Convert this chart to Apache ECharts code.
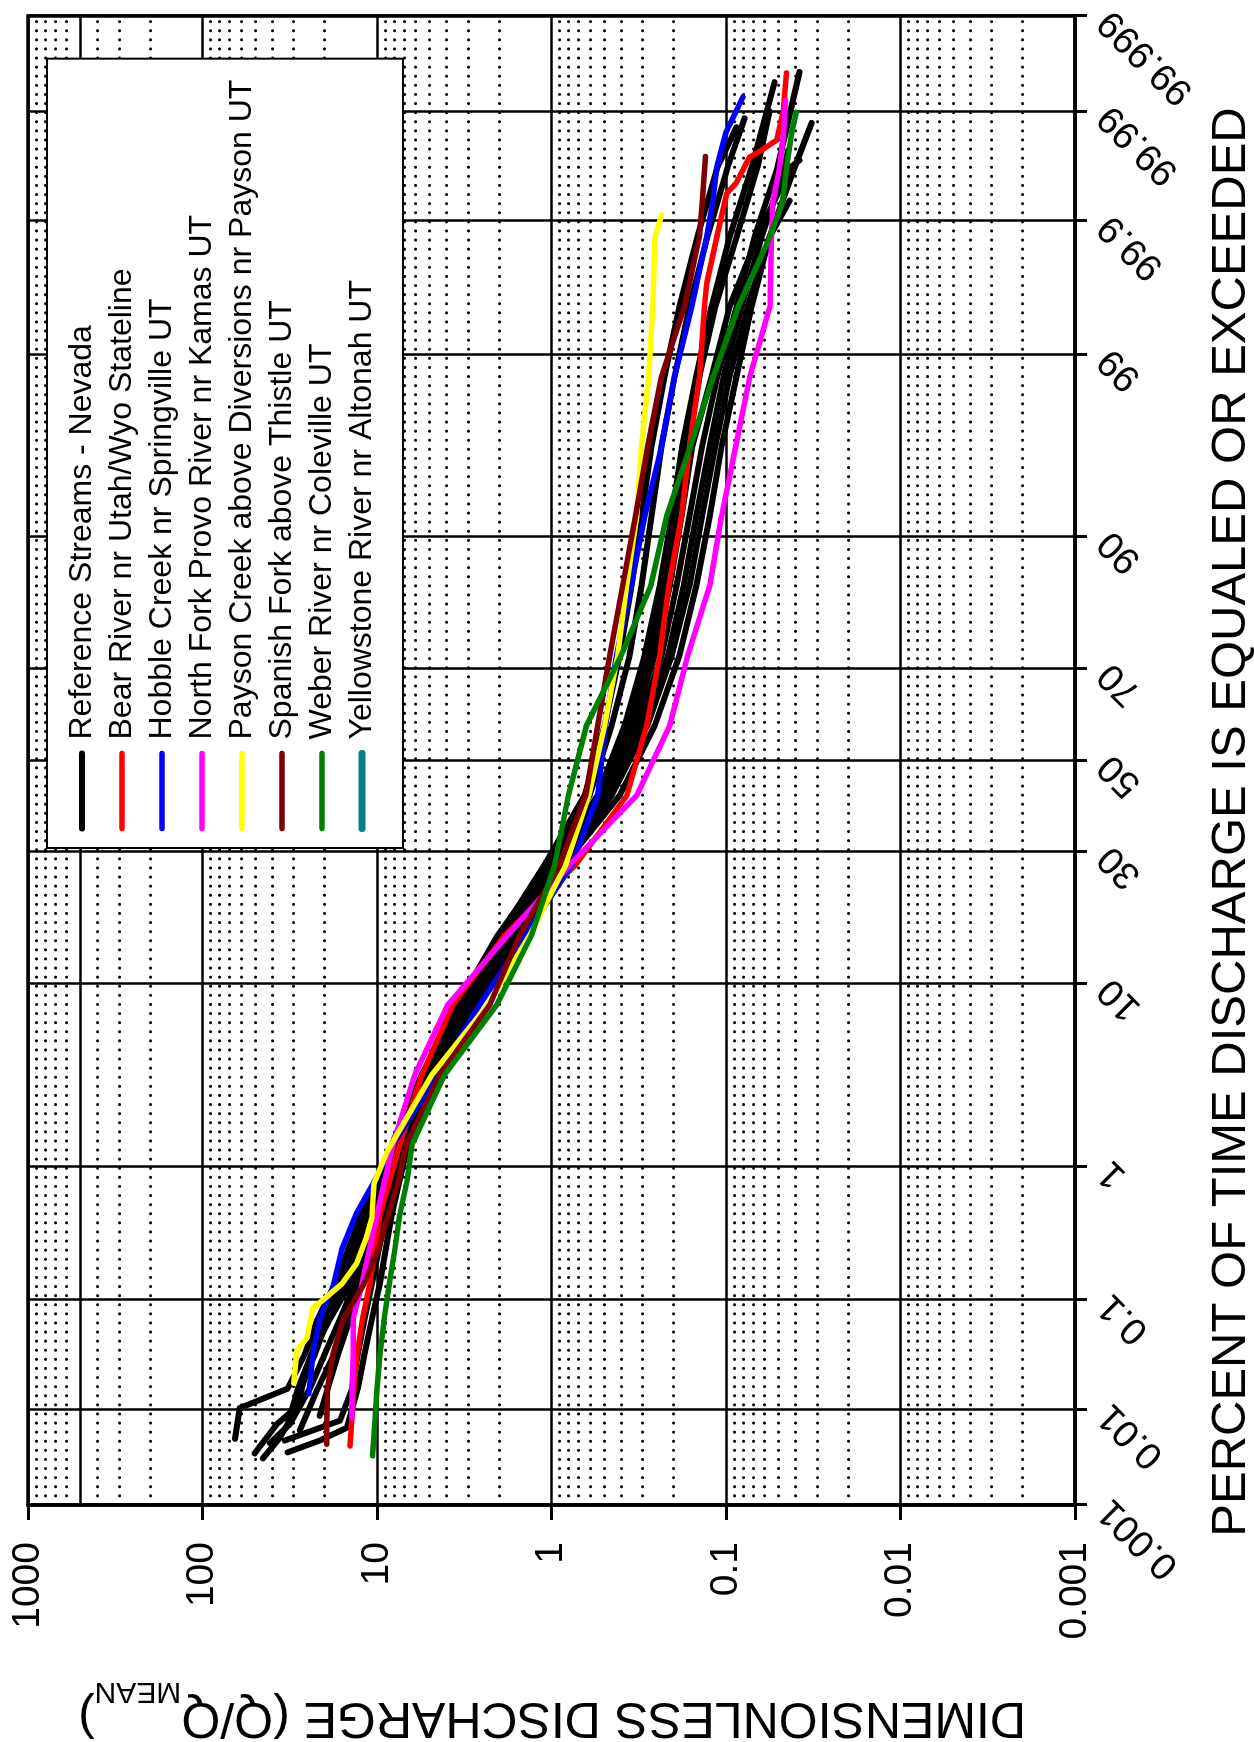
<!DOCTYPE html>
<html>
<head>
<meta charset="utf-8">
<title>Flow duration curves</title>
<script src="https://cdn.jsdelivr.net/npm/echarts@6/dist/echarts.min.js"></script>
<style>
  html, body { margin: 0; padding: 0; background: #fff; }
  #page { position: relative; width: 1254px; height: 1742px; overflow: hidden; background: #fff; }
  /* the plot is laid out landscape and turned a quarter-turn counter-clockwise */
  #chart { position: absolute; left: 0; top: 0; width: 1742px; height: 1254px;
           transform-origin: 0 0; transform: translate(0px, 1742px) rotate(-90deg); }
</style>
</head>
<body>
<div id="page"><div id="chart"></div></div>
<script>
// ---- axis ticks -------------------------------------------------------
const pctTicks = [0.001, 0.01, 0.1, 1, 10, 30, 50, 70, 90, 99, 99.9, 99.99, 99.999];
const pctTickLabels = ['0.001', '0.01', '0.1', '1', '10', '30', '50', '70', '90', '99', '99.9', '99.99', '99.999'];
const qTicks = [0.001, 0.01, 0.1, 1, 10, 100, 1000];
const qTickLabels = ['0.001', '0.01', '0.1', '1', '10', '100', '1000'];
const qMinorGrid = [0.002, 0.003, 0.004, 0.005, 0.006, 0.007, 0.008, 0.009,
                    0.02, 0.03, 0.04, 0.05, 0.06, 0.07, 0.08, 0.09,
                    0.2, 0.3, 0.4, 0.5, 0.6, 0.7, 0.8, 0.9,
                    2, 3, 4, 5, 6, 7, 8, 9,
                    20, 30, 40, 50, 60, 70, 80, 90,
                    200, 300, 400, 600, 700, 800, 900];
const qHeavyGrid = [500];

// ---- legend -----------------------------------------------------------
const legendNames = [
  'Reference Streams - Nevada',
  'Bear River nr Utah/Wyo Stateline',
  'Hobble Creek nr Springville UT',
  'North Fork Provo River nr Kamas UT',
  'Payson Creek above Diversions nr Payson UT',
  'Spanish Fork above Thistle UT',
  'Weber River nr Coleville UT',
  'Yellowstone River nr Altonah UT'
];
const legendColors = ['#000000', '#ff0000', '#0000ff', '#ff00ff', '#ffff00', '#800000', '#008000', '#008080'];

// ---- flow duration data: [percent of time equaled or exceeded, Q/Qmean] ----
const referenceStreams = [
  [[0.0051,65.2],[0.0104,61.1],[0.016,32.5],[0.0337,25.9],[0.0687,21.9],[0.135,17.4],[0.466,12.3],[1.39,8.23],[3.59,5.54],[8.08,3.45],[15.87,2.03],[27.43,1.05],[42.07,0.604],[57.93,0.452],[72.57,0.357],[84.13,0.305],[91.92,0.267],[96.41,0.234],[98.61,0.197],[99.534,0.162],[99.865,0.128],[99.966,0.098],[99.9883,0.0782]],
  [[0.0036,50.2],[0.0072,37.5],[0.0098,30.4],[0.0159,27.7],[0.0337,22.7],[0.0687,19.2],[0.135,15.3],[0.466,11.0],[1.39,7.6],[3.59,5.12],[8.08,3.15],[15.87,1.85],[27.43,0.99],[42.07,0.544],[57.93,0.381],[72.57,0.293],[84.13,0.240],[91.92,0.205],[96.41,0.178],[98.61,0.148],[99.534,0.121],[99.865,0.0954],[99.966,0.0714],[99.9949,0.0527]],
  [[0.0032,45.1],[0.0052,36.1],[0.0072,32.5],[0.0159,28.4],[0.0337,23.7],[0.0687,18.6],[0.135,14.3],[0.466,9.9],[1.39,7.21],[3.59,4.86],[8.08,3.02],[15.87,1.69],[27.43,0.943],[42.07,0.496],[57.93,0.321],[72.57,0.234],[84.13,0.192],[91.92,0.162],[96.41,0.137],[98.61,0.112],[99.534,0.087],[99.865,0.0686],[99.966,0.0507],[99.996,0.0379]],
  [[0.0037,32.5],[0.0049,21.3],[0.0066,14.9],[0.0159,12.9],[0.0337,11.8],[0.0687,10.7],[0.135,9.64],[0.466,8.23],[1.39,6.66],[3.59,4.49],[8.08,2.86],[15.87,1.57],[27.43,0.875],[42.07,0.452],[57.93,0.282],[72.57,0.205],[84.13,0.162],[91.92,0.137],[96.41,0.115],[98.61,0.0954],[99.534,0.0752],[99.865,0.0563],[99.966,0.0404],[99.987,0.0323]],
  [[0.0049,33.8],[0.0078,16.3],[0.0159,13.9],[0.0337,12.9],[0.0687,11.8],[0.135,10.7],[0.466,8.9],[1.39,6.93],[3.59,4.86],[8.08,3.10],[15.87,1.74],[27.43,0.918],[42.07,0.516],[57.93,0.343],[72.57,0.256],[84.13,0.210],[91.92,0.180],[96.41,0.156],[98.61,0.121],[99.534,0.0954],[99.865,0.066],[99.966,0.043],[99.9707,0.0379]],
  [[0.011,28.4],[0.0159,27.0],[0.0337,23.7],[0.0687,20.5],[0.135,16.3],[0.466,11.8],[1.39,7.91],[3.59,5.33],[8.08,3.36],[15.87,1.98],[27.43,1.10],[42.07,0.646],[57.93,0.496],[72.57,0.407],[84.13,0.348],[91.92,0.305],[96.41,0.267],[98.61,0.225],[99.534,0.185],[99.865,0.146],[99.966,0.112],[99.9857,0.087]],
  [[0.0087,21.3],[0.0159,19.2],[0.0337,16.7],[0.0687,14.3],[0.135,12.3],[0.466,9.39],[1.39,6.49],[3.59,4.37],[8.08,2.65],[15.87,1.48],[27.43,0.852],[42.07,0.407],[57.93,0.256],[72.57,0.185],[84.13,0.148],[91.92,0.124],[96.41,0.106],[98.61,0.087],[99.534,0.0714],[99.865,0.0563],[99.933,0.0432]],
  [[0.0046,41.1],[0.0072,31.6],[0.0159,24.3],[0.0337,19.9],[0.0687,16.3],[0.135,13.4],[0.466,10.3],[1.39,7.40],[3.59,4.99],[8.08,3.23],[15.87,1.78],[27.43,0.98],[42.07,0.530],[57.93,0.357],[72.57,0.274],[84.13,0.225],[91.92,0.192],[96.41,0.166],[98.61,0.142],[99.534,0.115],[99.865,0.087],[99.966,0.066],[99.990,0.0563]],
  [[0.0062,27.7],[0.0159,21.9],[0.0337,17.6],[0.0687,15.3],[0.135,12.9],[0.466,9.64],[1.39,7.03],[3.59,4.73],[8.08,2.94],[15.87,1.63],[27.43,0.898],[42.07,0.476],[57.93,0.305],[72.57,0.215],[84.13,0.175],[91.92,0.148],[96.41,0.124],[98.61,0.103],[99.534,0.0814],[99.865,0.0625],[99.966,0.0462],[99.9764,0.044]]
];
const bearRiver = [[0.0043,14.3],[0.0072,14.0],[0.0159,13.6],[0.0337,13.0],[0.0687,12.1],[0.135,11.0],[0.466,9.6],[1.39,7.4],[3.59,5.53],[8.08,3.68],[15.87,1.85],[27.43,0.73],[42.07,0.37],[57.93,0.285],[72.57,0.24],[84.13,0.213],[91.92,0.18],[96.41,0.162],[98.61,0.142],[99.534,0.133],[99.687,0.129],[99.864,0.113],[99.942,0.099],[99.953,0.0875],[99.9726,0.0733],[99.9764,0.0625],[99.981,0.0513],[99.990,0.047],[99.9959,0.045]];
const hobbleCreek = [[0.0143,24.6],[0.0337,23.3],[0.0687,21.3],[0.135,17.7],[0.256,15.9],[0.466,13.2],[0.82,10.2],[1.39,8.1],[3.59,4.5],[8.08,2.58],[15.87,1.41],[27.43,0.766],[42.07,0.543],[57.93,0.49],[72.57,0.424],[84.13,0.35],[91.92,0.292],[96.41,0.234],[98.61,0.197],[99.534,0.157],[99.865,0.129],[99.931,0.119],[99.966,0.113],[99.984,0.10],[99.9928,0.080]];
const northForkProvo = [[0.0083,13.9],[0.0159,13.9],[0.0337,13.7],[0.0687,13.7],[0.135,12.2],[0.466,10.0],[1.39,8.1],[3.59,6.07],[8.08,3.93],[15.87,1.78],[27.43,0.79],[42.07,0.325],[57.93,0.21],[72.57,0.166],[84.13,0.124],[91.92,0.106],[96.41,0.088],[98.61,0.073],[99.534,0.056],[99.865,0.0548],[99.931,0.054],[99.966,0.0493],[99.984,0.0467],[99.9922,0.0456]];
const paysonCreek = [[0.018,30.0],[0.036,28.8],[0.047,25.2],[0.086,23.3],[0.098,20.7],[0.136,15.9],[0.197,13.1],[0.313,11.5],[0.44,10.7],[0.77,10.4],[1.27,8.7],[3.59,4.85],[8.08,2.32],[15.87,1.33],[27.43,0.83],[42.07,0.612],[57.93,0.496],[72.57,0.418],[84.13,0.371],[91.92,0.325],[96.41,0.305],[98.61,0.277],[99.534,0.263],[99.865,0.255],[99.911,0.234]];
const spanishFork = [[0.0045,19.4],[0.0072,19.4],[0.0159,19.2],[0.0337,17.9],[0.0687,15.6],[0.135,11.9],[0.256,9.8],[0.466,8.6],[0.82,7.5],[1.39,6.8],[3.59,4.37],[8.08,2.26],[15.87,1.52],[27.43,0.9],[42.07,0.637],[57.93,0.543],[72.57,0.464],[84.13,0.391],[91.92,0.33],[96.41,0.281],[98.61,0.234],[99.534,0.173],[99.865,0.142],[99.931,0.137],[99.973,0.131]];
const weberRiver = [[0.0034,10.6],[0.0072,10.3],[0.0159,10.0],[0.0337,9.6],[0.0687,9.1],[0.135,8.5],[0.256,7.9],[0.466,7.4],[0.82,6.7],[1.39,6.3],[3.59,4.1],[8.08,2.06],[15.87,1.30],[27.43,0.96],[42.07,0.80],[57.93,0.63],[72.57,0.40],[84.13,0.27],[91.92,0.219],[96.41,0.16],[98.61,0.118],[99.534,0.085],[99.865,0.056],[99.931,0.0474],[99.966,0.045],[99.984,0.042],[99.9898,0.0395]];
const yellowstoneRiver = [];

// ---- normal probability scale -------------------------------------------
// inverse of the standard normal distribution (Acklam's rational approximation)
function probit(p) {
  const a = [-3.969683028665376e+01, 2.209460984245205e+02, -2.759285104469687e+02, 1.383577518672690e+02, -3.066479806614716e+01, 2.506628277459239e+00];
  const b = [-5.447609879822406e+01, 1.615858368580409e+02, -1.556989798598866e+02, 6.680131188771972e+01, -1.328068155288572e+01];
  const c = [-7.784894002430293e-03, -3.223964580411365e-01, -2.400758277161838e+00, -2.549732539343734e+00, 4.374664141464968e+00, 2.938163982698783e+00];
  const d = [7.784695709041462e-03, 3.224671290700398e-01, 2.445134137142996e+00, 3.754408661907416e+00];
  const pl = 0.02425, ph = 1 - pl;
  let q, r;
  if (p < pl) {
    q = Math.sqrt(-2 * Math.log(p));
    return (((((c[0]*q+c[1])*q+c[2])*q+c[3])*q+c[4])*q+c[5]) / ((((d[0]*q+d[1])*q+d[2])*q+d[3])*q+1);
  }
  if (p <= ph) {
    q = p - 0.5; r = q * q;
    return (((((a[0]*r+a[1])*r+a[2])*r+a[3])*r+a[4])*r+a[5])*q / (((((b[0]*r+b[1])*r+b[2])*r+b[3])*r+b[4])*r+1);
  }
  q = Math.sqrt(-2 * Math.log(1 - p));
  return -(((((c[0]*q+c[1])*q+c[2])*q+c[3])*q+c[4])*q+c[5]) / ((((d[0]*q+d[1])*q+d[2])*q+d[3])*q+1);
}
const zOf = pct => probit(pct / 100);
const Z_MIN = zOf(pctTicks[0]);
const Z_MAX = -Z_MIN;
const pctTickZ = pctTicks.map(zOf).map(z => Math.max(Z_MIN, Math.min(Z_MAX, z)));
const Q_MIN = qTicks[0], Q_MAX = qTicks[qTicks.length - 1];
// keep the end ticks a hair inside the log extent so rounding cannot drop them
const qTicksSafe = qTicks.map(v => Math.min(Math.max(v, Q_MIN * (1 + 1e-9)), Q_MAX * (1 - 1e-9)));

function nearestLabel(v, vals, labels, logScale) {
  let best = 0, bestD = Infinity;
  vals.forEach((t, i) => {
    const dd = logScale ? Math.abs(Math.log10(t) - Math.log10(v)) : Math.abs(t - v);
    if (dd < bestD) { bestD = dd; best = i; }
  });
  return labels[best];
}

const SANS = '"Liberation Sans", Arial, Helvetica, sans-serif';

function curve(name, color, width, pts, extra) {
  return Object.assign({
    type: 'line',
    name: name,
    data: pts.map(([p, q]) => [zOf(p), q]),
    symbol: 'none',
    showSymbol: false,
    silent: true,
    animation: false,
    itemStyle: { color: color },
    lineStyle: { color: color, width: width, cap: 'round', join: 'round' }
  }, extra || {});
}

const series = [];
referenceStreams.forEach((pts, i) => {
  series.push(curve(legendNames[0], legendColors[0], 6, pts, i === 0 ? {
    markLine: {
      silent: true, animation: false, symbol: ['none', 'none'], label: { show: false },
      lineStyle: { color: '#000', width: 2.5, type: 'solid' },
      data: qHeavyGrid.map(v => ({ yAxis: v }))
    }
  } : null));
});
[bearRiver, hobbleCreek, northForkProvo, paysonCreek, spanishFork, weberRiver, yellowstoneRiver].forEach((pts, i) => {
  series.push(curve(legendNames[i + 1], legendColors[i + 1], i === 6 ? 7 : 5.5, pts));
});

const chart = echarts.init(document.getElementById('chart'), null, { renderer: 'canvas' });
chart.setOption({
  backgroundColor: '#ffffff',
  animation: false,
  grid: {
    left: 237, right: 16, top: 28, bottom: 179,
    show: true, borderColor: '#000', borderWidth: 3.5, backgroundColor: 'transparent',
    containLabel: false, outerBoundsMode: 'none'
  },
  xAxis: {
    type: 'value', min: Z_MIN, max: Z_MAX, position: 'bottom',
    axisLine: { show: true, onZero: false, lineStyle: { color: '#000', width: 3.5 } },
    axisTick: { show: true, inside: false, length: 12, customValues: pctTickZ, lineStyle: { color: '#000', width: 3 } },
    axisLabel: {
      show: true, customValues: pctTickZ, rotate: 45, margin: 30,
      fontSize: 38, fontFamily: SANS, color: '#000',
      formatter: v => nearestLabel(v, pctTickZ, pctTickLabels, false)
    },
    splitLine: { show: true, lineStyle: { color: '#000', width: 2.5 } }
  },
  yAxis: [
    {
      type: 'log', logBase: 10, min: Q_MIN, max: Q_MAX, position: 'left',
      axisLine: { show: true, onZero: false, lineStyle: { color: '#000', width: 3.5 } },
      axisTick: { show: true, length: 15, customValues: qTicksSafe, lineStyle: { color: '#000', width: 3 } },
      axisLabel: {
        show: true, customValues: qTicksSafe, margin: 37,
        fontSize: 39, fontFamily: SANS, color: '#000',
        formatter: v => nearestLabel(v, qTicks, qTickLabels, true)
      },
      splitLine: { show: true, lineStyle: { color: '#000', width: 2.5 } },
      minorTick: { show: false }, minorSplitLine: { show: false }
    },
    {
      type: 'log', logBase: 10, min: Q_MIN, max: Q_MAX, position: 'right',
      axisLine: { show: false },
      axisTick: { show: false, customValues: qMinorGrid },
      axisLabel: { show: false },
      splitLine: { show: true, lineStyle: { color: '#000', width: 3, type: [0.1, 9], cap: 'round' } }
    }
  ],
  legend: {
    data: legendNames,
    orient: 'vertical', left: 894, top: 47,
    padding: [19, 21, 25, 16], itemGap: 8, itemWidth: 75, itemHeight: 32,
    backgroundColor: '#fff', borderColor: '#000', borderWidth: 2, borderRadius: 0,
    selectedMode: false, z: 10,
    itemStyle: { opacity: 0, borderWidth: 0 },
    lineStyle: { width: 'inherit', cap: 'round' },
    formatter: name => '{t|' + name + '}',
    textStyle: {
      color: '#000', fontFamily: SANS, fontSize: 32,
      rich: { t: { color: '#000', fontFamily: SANS, fontSize: 32, padding: [0, 0, 0, 9] } }
    }
  },
  graphic: [
    {
      type: 'text', x: 920, y: 1231, silent: true,
      style: {
        text: 'PERCENT OF TIME DISCHARGE IS EQUALED OR EXCEEDED',
        fontSize: 49, fontFamily: SANS, fill: '#000', align: 'center', verticalAlign: 'middle'
      }
    },
    {
      type: 'text', x: 30, y: 552, rotation: Math.PI / 2, silent: true,
      style: {
        text: '{m|DIMENSIONLESS DISCHARGE (Q/Q}{s|MEAN}{m|)}',
        align: 'center', verticalAlign: 'middle', fill: '#000',
        rich: {
          m: { fontSize: 50, fontFamily: SANS, fill: '#000', lineHeight: 60, verticalAlign: 'top' },
          s: { fontSize: 30, fontFamily: SANS, fill: '#000', lineHeight: 30, verticalAlign: 'top', padding: [36, 0, 0, 0] }
        }
      }
    }
  ],
  series: series
});
</script>
</body>
</html>
